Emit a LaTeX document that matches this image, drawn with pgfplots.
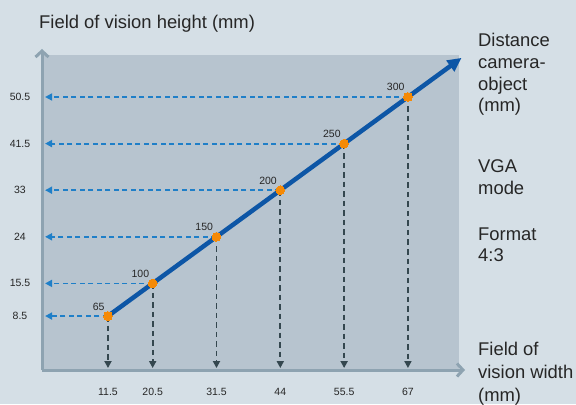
\documentclass[border=0pt]{standalone}
\usepackage{pgfplots}
\pgfplotsset{compat=1.18}
\usetikzlibrary{arrows.meta}
\usepackage{fontspec}
\setmainfont{Liberation Sans}
\definecolor{bg}{HTML}{D5DFE6}
\definecolor{plotbg}{HTML}{B7C4CF}
\definecolor{axisc}{HTML}{8EA3B1}
\definecolor{mainblue}{HTML}{0D56A6}
\definecolor{ptorange}{HTML}{F58A07}
\definecolor{dashblue}{HTML}{1F7FC8}
\definecolor{dashdark}{HTML}{34474F}
\definecolor{txt}{HTML}{262626}
\begin{document}
\begin{tikzpicture}[x=1bp,y=1bp]
\useasboundingbox (0,0) rectangle (576,404);
\fill[bg] (0,0) rectangle (576,404);
\fill[plotbg] (42,34) rectangle (459,349);
\begin{axis}[
  at={(42bp,34bp)}, anchor=south west,
  scale only axis, width=423bp, height=321bp,
  xmin=13.3, xmax=344.7, ymin=7.1, ymax=351.5,
  axis lines=left,
  axis line style={axisc, line width=3bp, -{Straight Barb[length=6bp,width=13bp]}},
  xtick={65,100,150,200,250,300}, xticklabels={11.5,20.5,31.5,44,55.5,67},
  ytick={65,100,150,200,250,300}, yticklabels={8.5,15.5,24,33,41.5,50.5},
  major tick length=0, tick style={draw=none},
  tick label style={font=\fontsize{10.5bp}{12bp}\selectfont, text=txt},
  xticklabel style={anchor=center, yshift=-21.7bp},
  yticklabel style={anchor=center, xshift=-22bp},
  /pgf/number format/assume math mode=true,
  clip=false,
]
\pgfplotsinvokeforeach{65,100,150,200,250,300}{
  \addplot[dashblue, line width=1.8bp, dash pattern=on 5bp off 3.5bp, -{Triangle[length=7bp,width=7bp]}] coordinates {(#1,#1) (15.7,#1)};
  \addplot[dashdark, line width=1.8bp, dash pattern=on 5.5bp off 4bp, -{Triangle[length=7bp,width=7bp]}] coordinates {(#1,#1) (#1,9.2)};
}
\addplot[mainblue, line width=4.5bp, -{Triangle[length=14bp,width=13bp]}] coordinates {(65,65) (342,342)};
\addplot[ptorange, only marks, mark=*, mark size=4.4bp, mark options={draw=ptorange, fill=ptorange, line width=0pt},
  point meta=x,
  nodes near coords={\pgfmathprintnumber{\pgfplotspointmeta}},
  nodes near coords style={anchor=base east, inner sep=0pt, xshift=-3.5bp, yshift=6bp,
    font=\fontsize{10.5bp}{12bp}\selectfont, text=txt}]
  coordinates {(65,65) (100,100) (150,150) (200,200) (250,250) (300,300)};
\end{axis}
\begin{scope}[every node/.style={anchor=base west, inner sep=0pt, text=txt, font=\fontsize{18.4bp}{22bp}\selectfont}]
\node at (39,375.7) {Field of vision height (mm)};
\node at (478,358) {Distance};
\node at (478,335.7) {camera-};
\node at (478,314) {object};
\node at (478,292.3) {(mm)};
\node at (478,231.3) {VGA};
\node at (478,209.7) {mode};
\node at (478,164) {Format};
\node at (478,142.3) {4:3};
\node at (478,49) {Field of};
\node at (478,26) {vision width};
\node at (478,3) {(mm)};
\end{scope}
\end{tikzpicture}
\end{document}
